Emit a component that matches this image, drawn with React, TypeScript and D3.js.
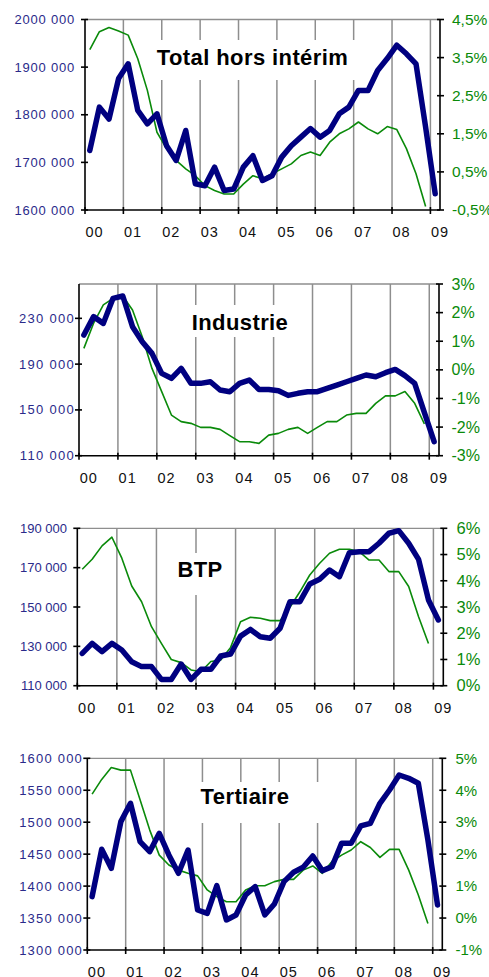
import React, { useRef, useEffect } from 'react';
import * as d3 from 'd3';

const yearLabels = ['00', '01', '02', '03', '04', '05', '06', '07', '08', '09'];

// Total hors intérim : effectifs (gauche) et glissement annuel en % (droite)
const totalEffectifs = [1725000, 1816000, 1791000, 1876000, 1907000, 1809000, 1781000, 1802000, 1735000, 1704000, 1767000, 1655000, 1651000, 1690000, 1641000, 1644000, 1690000, 1714000, 1662000, 1672000, 1711000, 1735000, 1753000, 1771000, 1753000, 1767000, 1802000, 1816000, 1851000, 1851000, 1893000, 1918000, 1946000, 1928000, 1907000, 1774000, 1634000];
const totalGlissement = [3.71, 4.18, 4.29, 4.2, 4.09, 3.47, 2.64, 1.54, 1.11, 0.8, 0.58, 0.4, 0.14, 0.01, -0.08, -0.08, 0.18, 0.4, 0.32, 0.45, 0.58, 0.71, 0.93, 1.02, 0.93, 1.28, 1.5, 1.63, 1.81, 1.63, 1.5, 1.69, 1.61, 1.11, 0.45, -0.41];
const totalLeftTicks = [1600000, 1700000, 1800000, 1900000, 2000000];
const totalLeftLabels = ['1600 000', '1700 000', '1800 000', '1900 000', '2000 000'];
const totalRightTicks = [-0.5, 0.5, 1.5, 2.5, 3.5, 4.5];
const totalRightLabels = ['-0,5%', '0,5%', '1,5%', '2,5%', '3,5%', '4,5%'];

// Industrie
const industrieEffectifs = [215400, 231500, 225600, 247500, 249500, 222700, 209600, 199400, 181900, 177600, 186300, 173200, 173200, 174600, 167400, 165900, 173200, 176100, 167900, 167900, 166800, 162700, 164500, 165900, 165900, 168800, 171700, 174600, 177600, 180500, 179000, 182500, 185400, 180000, 173200, 147600, 122200];
const industrieGlissement = [0.75, 1.63, 2.27, 2.5, 2.58, 2.09, 1.16, 0.05, -0.76, -1.58, -1.81, -1.87, -2.01, -2.01, -2.08, -2.3, -2.51, -2.51, -2.57, -2.28, -2.22, -2.08, -2.01, -2.22, -2.01, -1.81, -1.81, -1.58, -1.52, -1.52, -1.17, -0.91, -0.91, -0.76, -1.17, -1.89];
const industrieLeftTicks = [110000, 150000, 190000, 230000];
const industrieLeftLabels = ['110 000', '150 000', '190 000', '230 000'];
const industrieRightTicks = [-3, -2, -1, 0, 1, 2, 3];
const industrieRightLabels = ['-3%', '-2%', '-1%', '0%', '1%', '2%', '3%'];

// BTP
const btpEffectifs = [126400, 131500, 127300, 131500, 128100, 122200, 119700, 119700, 113200, 113200, 121000, 113200, 118300, 118300, 125100, 126100, 135200, 138600, 134900, 134100, 139200, 152700, 152700, 161700, 164100, 168800, 165400, 177600, 178100, 178100, 182400, 187500, 188800, 182400, 174200, 153600, 143400];
const btpGlissement = [4.44, 4.82, 5.33, 5.66, 4.86, 3.8, 3.2, 2.25, 1.61, 1.0, 0.88, 0.6, 0.53, 0.92, 0.98, 1.46, 2.44, 2.61, 2.57, 2.48, 2.48, 2.99, 3.58, 4.22, 4.67, 5.05, 5.2, 5.2, 5.11, 4.79, 4.79, 4.35, 4.35, 3.78, 2.63, 1.61];
const btpLeftTicks = [110000, 130000, 150000, 170000, 190000];
const btpLeftLabels = ['110 000', '130 000', '150 000', '170 000', '190 000'];
const btpRightTicks = [0, 1, 2, 3, 4, 5, 6];
const btpRightLabels = ['0%', '1%', '2%', '3%', '4%', '5%', '6%'];

// Tertiaire
const tertiaireEffectifs = [1383500, 1457600, 1427800, 1500900, 1529600, 1469600, 1453900, 1482600, 1448700, 1420000, 1456500, 1362600, 1357400, 1400700, 1347000, 1354800, 1386100, 1399100, 1354800, 1372000, 1407000, 1421600, 1429400, 1447100, 1424200, 1430400, 1467000, 1467000, 1494100, 1498300, 1529600, 1550400, 1573900, 1568700, 1560900, 1472200, 1370500];
const tertiaireGlissement = [3.88, 4.34, 4.71, 4.63, 4.63, 3.7, 2.76, 1.97, 1.66, 1.5, 1.4, 1.32, 0.88, 0.67, 0.51, 0.51, 0.88, 1.01, 1.01, 1.14, 1.21, 1.21, 1.5, 1.63, 1.4, 1.77, 1.97, 2.13, 2.39, 2.21, 1.9, 2.15, 2.15, 1.5, 0.72, -0.17];
const tertiaireLeftTicks = [1300000, 1350000, 1400000, 1450000, 1500000, 1550000, 1600000];
const tertiaireLeftLabels = ['1300 000', '1350 000', '1400 000', '1450 000', '1500 000', '1550 000', '1600 000'];
const tertiaireRightTicks = [-1, 0, 1, 2, 3, 4, 5];
const tertiaireRightLabels = ['-1%', '0%', '1%', '2%', '3%', '4%', '5%'];

const NQ = 37; // trimestres 2000T1 -> 2009T1
const FONT = "'Liberation Sans', Arial, sans-serif";
const NAVY = '#000080';
const GREEN = '#0a8a0a';
const GRID = '#8e8e8e';

const panels = [
  {
    title: 'Total hors intérim', eff: totalEffectifs, gl: totalGlissement,
    lt: totalLeftTicks, ll: totalLeftLabels, lDom: [1600000, 2000000],
    rt: totalRightTicks, rl: totalRightLabels, rDom: [-0.5, 4.5],
    left: 85, right: 440, top: 19.5, bottom: 210,
    box: [142, 40, 216, 40], tx: 252.5, ty: 65,
    lEnd: 75, lSpace: 0.8, rStart: 452, rFont: 15.5,
  },
  {
    title: 'Industrie', eff: industrieEffectifs, gl: industrieGlissement,
    lt: industrieLeftTicks, ll: industrieLeftLabels, lDom: [110000, 260000],
    rt: industrieRightTicks, rl: industrieRightLabels, rDom: [-3, 3],
    left: 79, right: 439, top: 284, bottom: 455.7,
    box: [184, 305, 116, 32], tx: 240, ty: 330,
    lEnd: 75, lSpace: 1.3, rStart: 451.5, rFont: 16,
  },
  {
    title: 'BTP', eff: btpEffectifs, gl: btpGlissement,
    lt: btpLeftTicks, ll: btpLeftLabels, lDom: [110000, 190000],
    rt: btpRightTicks, rl: btpRightLabels, rDom: [0, 6],
    left: 77.3, right: 443.3, top: 528.3, bottom: 685.7,
    box: [170, 553, 60, 42], tx: 200, ty: 577,
    lEnd: 67, lSpace: 0, rStart: 456.5, rFont: 16.5,
  },
  {
    title: 'Tertiaire', eff: tertiaireEffectifs, gl: tertiaireGlissement,
    lt: tertiaireLeftTicks, ll: tertiaireLeftLabels, lDom: [1300000, 1600000],
    rt: tertiaireRightTicks, rl: tertiaireRightLabels, rDom: [-1, 5],
    left: 87.3, right: 442.3, top: 758.3, bottom: 950,
    box: [192, 782, 130, 41], tx: 245, ty: 803.5,
    lEnd: 83, lSpace: 1.2, rStart: 455.5, rFont: 15,
  },
];

const App = () => {
  const svgRef = useRef(null);
  useEffect(() => {
    d3.select(svgRef.current).selectAll('*').remove();
    const svg = d3.select(svgRef.current);

    panels.forEach((p) => {
      const g = svg.append('g');
      const x = d3.scaleLinear().domain([0, NQ]).range([p.left, p.right]);
      const yL = d3.scaleLinear().domain(p.lDom).range([p.bottom, p.top]);
      const yR = d3.scaleLinear().domain(p.rDom).range([p.bottom, p.top]);

      // bord supérieur gris + grille verticale (une par année)
      g.append('line')
        .attr('x1', p.left).attr('x2', p.right)
        .attr('y1', p.top).attr('y2', p.top)
        .attr('stroke', GRID).attr('stroke-width', 1.3);
      d3.range(1, 10).forEach((k) => {
        g.append('line')
          .attr('x1', x(4 * k)).attr('x2', x(4 * k))
          .attr('y1', p.top).attr('y2', p.bottom)
          .attr('stroke', GRID).attr('stroke-width', 1.5);
      });

      // cadre blanc du titre
      g.append('rect')
        .attr('x', p.box[0]).attr('y', p.box[1])
        .attr('width', p.box[2]).attr('height', p.box[3])
        .attr('fill', '#fff');
      g.append('text')
        .attr('x', p.tx).attr('y', p.ty)
        .attr('text-anchor', 'middle')
        .style('font-family', FONT).style('font-weight', 'bold')
        .style('font-size', '22px').style('letter-spacing', '0.4px')
        .attr('fill', '#000')
        .text(p.title);

      // séries
      const lineL = d3.line<number>().x((d, i) => x(i + 0.5)).y((d) => yL(d));
      const lineR = d3.line<number>().x((d, i) => x(i + 0.5)).y((d) => yR(d));
      g.append('path').datum(p.gl)
        .attr('d', lineR).attr('fill', 'none')
        .attr('stroke', GREEN).attr('stroke-width', 1.6)
        .attr('stroke-linejoin', 'round');
      g.append('path').datum(p.eff)
        .attr('d', lineL).attr('fill', 'none')
        .attr('stroke', NAVY).attr('stroke-width', 5.5)
        .attr('stroke-linejoin', 'round').attr('stroke-linecap', 'round');

      // axes
      const axisStyle = (sel) => sel.attr('stroke', '#000').attr('stroke-width', 1.6);
      axisStyle(g.append('line').attr('x1', p.left).attr('x2', p.left).attr('y1', p.top).attr('y2', p.bottom));
      axisStyle(g.append('line').attr('x1', p.right).attr('x2', p.right).attr('y1', p.top).attr('y2', p.bottom));
      axisStyle(g.append('line').attr('x1', p.left).attr('x2', p.right).attr('y1', p.bottom).attr('y2', p.bottom));

      p.lt.forEach((v, i) => {
        axisStyle(g.append('line').attr('x1', p.left - 4).attr('x2', p.left + 3).attr('y1', yL(v)).attr('y2', yL(v)));
        g.append('text')
          .attr('x', p.lEnd).attr('y', yL(v)).attr('dy', '0.35em')
          .attr('text-anchor', 'end')
          .style('font-family', FONT).style('font-size', '13px')
          .style('letter-spacing', p.lSpace + 'px')
          .attr('fill', '#2a2a8a')
          .text(p.ll[i]);
      });
      p.rt.forEach((v, i) => {
        axisStyle(g.append('line').attr('x1', p.right - 3).attr('x2', p.right + 4).attr('y1', yR(v)).attr('y2', yR(v)));
        g.append('text')
          .attr('x', p.rStart).attr('y', yR(v)).attr('dy', '0.35em')
          .style('font-family', FONT).style('font-size', p.rFont + 'px')
          .attr('fill', GREEN)
          .text(p.rl[i]);
      });
      yearLabels.forEach((lab, k) => {
        axisStyle(g.append('line').attr('x1', x(4 * k)).attr('x2', x(4 * k)).attr('y1', p.bottom - 3).attr('y2', p.bottom + 4));
        g.append('text')
          .attr('x', x(4 * k + 1)).attr('y', p.bottom + 27)
          .attr('text-anchor', 'middle')
          .style('font-family', FONT).style('font-size', '14.5px')
          .style('letter-spacing', '1px')
          .attr('fill', '#111')
          .text(lab);
      });
    });
  }, []);

  return (
    <svg
      ref={svgRef}
      width={489}
      height={977}
      style={{ position: 'absolute', left: 0, top: 0, background: '#fff' }}
    />
  );
};

export default App;
